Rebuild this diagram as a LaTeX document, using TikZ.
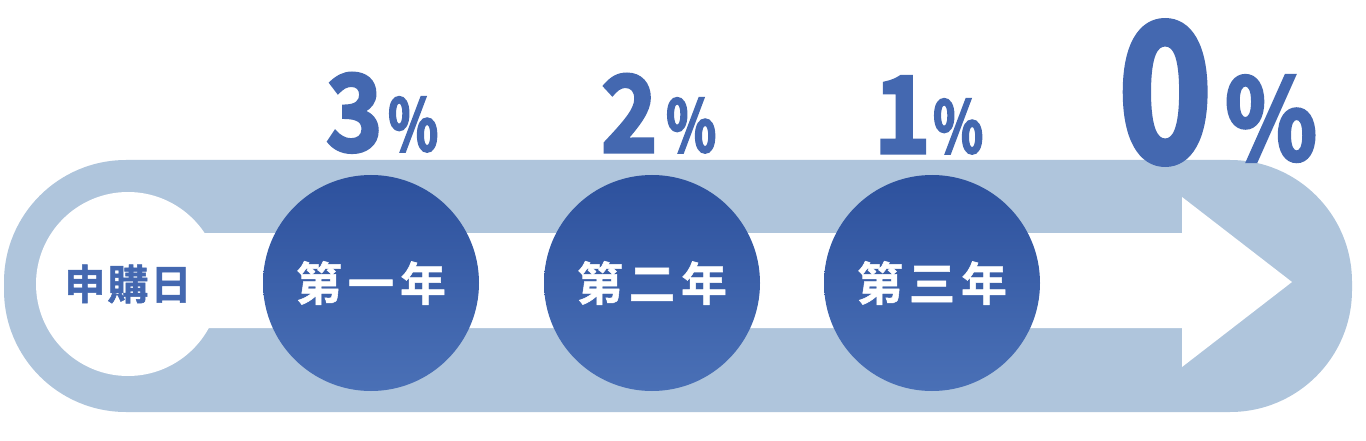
\documentclass[tikz,border=0pt]{standalone}
\usepackage{fontspec}
\newfontfamily\cjkb{Noto Sans CJK TC Bold}[FakeBold=1.2]
\newfontfamily\numf{Noto Sans CJK TC Bold}[FakeBold=3, FakeStretch=0.9]
\newfontfamily\numz{Noto Sans CJK TC Bold}[FakeBold=3.5, FakeStretch=0.82]
\newfontfamily\pctn{Noto Sans CJK TC Bold}[FakeBold=2.5, FakeStretch=0.72]
\newfontfamily\pctw{Noto Sans CJK TC Bold}[FakeBold=3, FakeStretch=0.85]
\definecolor{bandc}{HTML}{AFC5DC}
\definecolor{txtb}{HTML}{4468B0}
\definecolor{ctop}{HTML}{2D519D}
\definecolor{cbot}{HTML}{4A70B6}
\tikzset{
  x=1pt, y=-1pt,
  yearc/.style={circle, minimum size=216pt, inner sep=0pt, top color=ctop, bottom color=cbot, text=white, font=\cjkb\fontsize{46}{46}\selectfont},
  startc/.style={circle, minimum size=184pt, inner sep=0pt, fill=white, text=txtb, font=\cjkb\fontsize{41}{41}\selectfont},
  pct/.style={anchor=base west, inner sep=0pt, text=txtb, text height=0.72em, text depth=0pt},
}
\newcommand{\gapa}{\hspace{6pt}}
\newcommand{\gapb}{\hspace{2pt}}
\begin{document}
\begin{tikzpicture}
\useasboundingbox (0,0) rectangle (1366,441);
\fill[white] (0,0) rectangle (1366,441);
% band
\fill[bandc, rounded corners=122pt] (4,160) rectangle (1352,412);
% arrow
\coordinate (a1) at (200,233);
\coordinate (a2) at (1182,233);
\coordinate (a3) at (1182,197);
\coordinate (tip) at (1292,282);
\coordinate (a5) at (1182,367);
\coordinate (a6) at (1182,328);
\coordinate (a7) at (200,328);
\fill[white] (a1) -- (a2) -- (a3) -- (tip) -- (a5) -- (a6) -- (a7) -- cycle;
% circles
\node[startc] (s) at (128,284) {申\gapb 購\gapb 日};
\node[yearc] (y1) at (371,283) {第\gapa 一\gapa 年};
\node[yearc] (y2) at (652,283) {第\gapa 二\gapa 年};
\node[yearc] (y3) at (932,283) {第\gapa 三\gapa 年};
% percentages
\node[pct, font=\numf\fontsize{106}{106}\selectfont] (n3) at (326,151) {3};
\node[pct, font=\pctn\fontsize{72}{72}\selectfont] (s3) at (388,151) {\%};
\node[pct, font=\numf\fontsize{106}{106}\selectfont] (n2) at (601,152) {2};
\node[pct, font=\pctn\fontsize{72}{72}\selectfont] (s2) at (666,152) {\%};
\node[pct, font=\numf\fontsize{106}{106}\selectfont] (n1) at (874,153) {1};
\node[pct, font=\pctn\fontsize{72}{72}\selectfont] (s1) at (933,153) {\%};
\node[pct, font=\numz\fontsize{190}{190}\selectfont] (n0) at (1119,161) {0};
\node[pct, font=\pctw\fontsize{112}{112}\selectfont] (s0) at (1225,160) {\%};
\end{tikzpicture}
\end{document}
